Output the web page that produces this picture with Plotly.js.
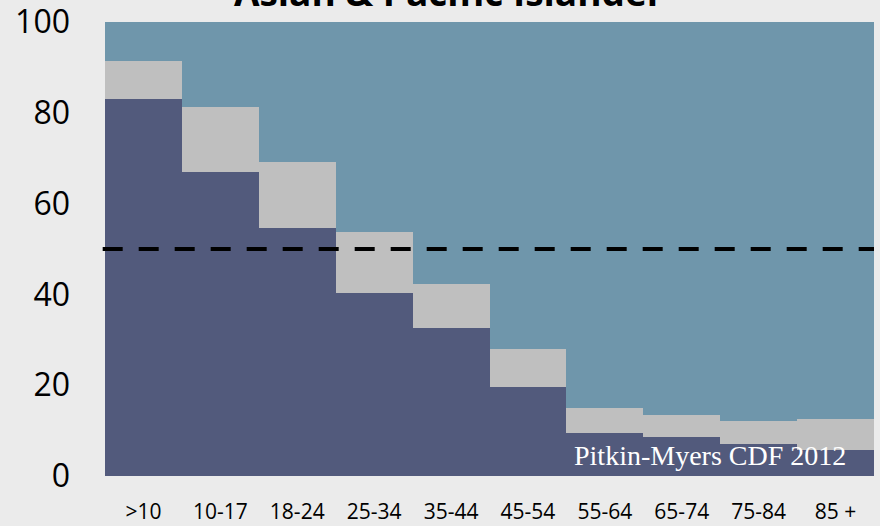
<!DOCTYPE html>
<html>
<head>
<meta charset="utf-8">
<script src="https://cdn.plot.ly/plotly-3.0.1.min.js"></script>
<style>html,body{margin:0;padding:0;background:#ebebeb;}#chart{width:880px;height:526px;}</style>
</head>
<body>
<div id="chart"></div>
<script>
const categories = [">10", "10-17", "18-24", "25-34", "35-44", "45-54", "55-64", "65-74", "75-84", "85 +"];
const lowerShare = [83.0, 67.0, 54.6, 40.3, 32.7, 19.5, 9.5, 8.7, 7.0, 5.7];
const middleShare = [8.4, 14.2, 14.5, 13.4, 9.7, 8.5, 5.5, 4.7, 5.2, 6.8];
const upperShare = lowerShare.map((v, i) => +(100 - v - middleShare[i]).toFixed(1));
const referenceLevel = 50;
const yTicks = [0, 20, 40, 60, 80, 100];

const traces = [
  {type: "bar", x: categories, y: lowerShare, marker: {color: "#525a7c"}, hoverinfo: "x+y"},
  {type: "bar", x: categories, y: middleShare, marker: {color: "#bfbfbf"}, hoverinfo: "x+y"},
  {type: "bar", x: categories, y: upperShare, marker: {color: "#6f96ab"}, hoverinfo: "x+y"}
];

const layout = {
  width: 880, height: 526,
  barmode: "stack", bargap: 0,
  showlegend: false,
  paper_bgcolor: "#ebebeb",
  plot_bgcolor: "#ebebeb",
  margin: {l: 105, r: 6, t: 22, b: 50, pad: 0},
  title: {
    text: "<b>Asian &amp; Pacific Islander</b>",
    font: {family: "Open Sans", size: 37, color: "#000"},
    x: 0.447, xref: "paper", xanchor: "center",
    y: 1, yref: "container", yanchor: "top",
    pad: {t: -20}
  },
  xaxis: {
    type: "category",
    showgrid: false, zeroline: false, showline: false,
    ticks: "", ticklabelstandoff: 21,
    tickfont: {family: "Open Sans", size: 21, color: "#000"}
  },
  yaxis: {
    range: [0, 100], tickmode: "array", tickvals: yTicks, ticktext: yTicks.map(String),
    showgrid: false, zeroline: false, showline: false,
    ticks: "", ticklabelstandoff: 34, ticklabeloverflow: "allow", automargin: false,
    tickfont: {family: "Open Sans", size: 32, color: "#000"}
  },
  shapes: [{
    type: "line", xref: "paper", yref: "y",
    x0: -0.003, x1: 1, y0: referenceLevel, y1: referenceLevel,
    line: {color: "#000", width: 4, dash: "20px,16px"}
  }],
  annotations: [{
    text: "Pitkin-Myers CDF 2012",
    xref: "paper", yref: "y",
    x: 0.787, y: 4.6, xanchor: "center", yanchor: "middle",
    showarrow: false,
    font: {family: "Liberation Serif", size: 28, color: "#ffffff"}
  }]
};

Plotly.newPlot("chart", traces, layout, {displayModeBar: false, staticPlot: true});
</script>
</body>
</html>
